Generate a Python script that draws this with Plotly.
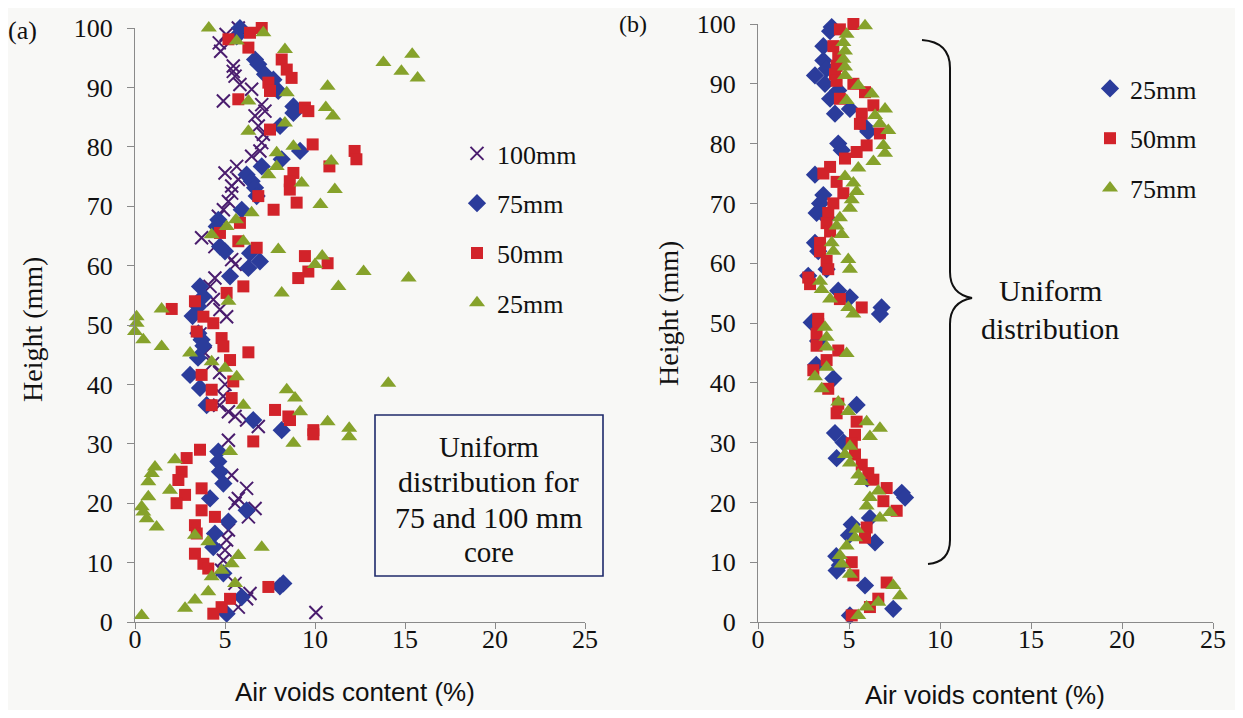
import plotly.graph_objects as go

# ---------------- Panel (a) data ----------------
a100_x = [5.74, 5.06, 4.68, 4.76, 5.46, 5.46, 5.56, 5.83, 6.48, 4.91, 7.04, 7.22, 6.67, 6.85, 7.13, 7.04, 6.94, 6.48,
          5.65, 5.00, 5.74, 5.37, 5.37, 5.19, 4.91, 4.63, 3.70, 4.44, 5.37, 5.56, 4.44, 4.17, 4.35, 4.72, 5.09,
          3.61, 3.89, 4.30, 4.70, 5.00, 4.90, 4.70, 5.19, 5.56, 6.20, 6.85, 5.19, 5.37, 6.20, 5.74, 5.56, 6.67,
          6.30, 5.19, 5.09, 5.00, 4.91, 4.81, 5.56, 6.39, 6.20, 5.74, 10.05]
a100_y = [100.0, 98.9, 97.5, 96.1, 93.6, 92.7, 91.9, 90.5, 89.7, 87.7, 87.1, 86.0, 85.2, 83.5, 82.1, 80.7, 79.3, 78.4,
          76.7, 75.6, 74.5, 73.4, 72.2, 70.8, 69.4, 68.3, 64.7, 63.2, 61.0, 60.2, 57.9, 56.5, 54.3, 52.6, 51.4,
          48.5, 45.3, 43.5, 42.0, 40.0, 38.0, 36.5, 35.4, 34.6, 34.0, 32.9, 30.6, 24.7, 22.5, 20.8, 20.0, 19.1,
          17.7, 15.5, 13.8, 12.1, 10.4, 8.7, 6.5, 4.8, 3.9, 2.5, 1.6]

a75_x = [5.83, 5.65, 6.67, 6.85, 7.22, 7.69, 7.96, 8.80, 8.80, 8.06, 9.17, 8.15, 7.04, 6.20, 6.48, 6.67, 6.76, 5.93,
         4.63, 4.54, 4.72, 5.00, 6.39, 6.94, 6.30, 5.28, 3.61, 3.80, 3.52, 3.20, 3.52, 3.70, 3.80, 3.50, 3.06,
         3.61, 3.98, 6.57, 8.15, 4.63, 4.63, 4.72, 4.91, 4.17, 6.20, 5.19, 4.44, 4.35, 4.91, 8.24, 8.05, 5.93, 5.09]
a75_y = [100.0, 98.6, 94.7, 93.9, 92.2, 91.3, 89.4, 86.8, 85.7, 83.5, 79.3, 77.9, 76.7, 75.3, 74.2, 73.1, 71.7, 69.4,
         67.7, 66.6, 63.2, 62.4, 62.1, 60.7, 59.6, 58.2, 56.5, 54.8, 53.1, 51.5, 48.6, 47.5, 46.5, 44.5, 41.6,
         39.4, 36.5, 34.0, 32.3, 28.7, 27.0, 25.3, 23.3, 20.8, 18.8, 16.9, 14.9, 12.6, 8.2, 6.5, 6.0, 4.2, 1.4]

a50_x = [7.04, 6.39, 5.19, 6.30, 8.15, 8.43, 8.70, 7.41, 7.50, 5.74, 9.44, 9.63, 7.50, 9.87, 12.2, 12.3, 10.8, 8.80,
         8.60, 8.60, 6.85, 8.98, 7.70, 5.83, 4.72, 5.74, 6.76, 9.44, 10.7, 9.63, 9.07, 6.02, 5.09, 3.33, 2.04,
         3.80, 4.35, 3.43, 4.81, 4.91, 6.30, 5.28, 3.70, 5.46, 4.26, 5.37, 4.26, 7.78, 8.52, 8.61, 9.91, 9.91,
         6.57, 3.61, 2.87, 2.59, 2.41, 3.70, 2.78, 2.31, 3.70, 4.44, 3.33, 3.43, 3.33, 3.80, 4.07, 7.41, 5.28,
         4.81, 4.35]
a50_y = [100.0, 99.2, 98.1, 96.7, 94.7, 93.0, 91.6, 90.8, 89.4, 88.0, 86.6, 86.0, 82.9, 80.4, 79.3, 77.9, 76.7, 75.6,
         74.2, 72.8, 71.7, 70.6, 69.4, 67.2, 65.5, 64.1, 63.0, 61.6, 60.4, 59.0, 57.9, 56.5, 55.4, 54.0, 52.7,
         51.4, 50.3, 48.9, 47.8, 46.4, 45.4, 44.1, 41.6, 40.5, 39.1, 37.7, 36.5, 35.7, 34.6, 34.0, 32.3, 31.6,
         30.4, 29.0, 27.6, 25.3, 23.9, 22.5, 21.4, 20.0, 18.8, 17.7, 16.3, 14.9, 11.5, 9.8, 9.0, 5.9, 3.9,
         2.5, 1.4]

a25_x = [4.10, 5.65, 7.13, 8.33, 10.7, 6.30, 8.43, 10.6, 11.0, 6.30, 8.33, 8.80, 7.87, 10.9, 7.87, 7.41, 9.26, 11.1,
         10.3, 13.8, 15.4, 14.8, 15.7, 6.48, 5.61, 5.09, 4.26, 6.02, 7.96, 10.4, 10.0, 12.7, 15.2, 11.3, 8.15,
         5.19, 1.48, 0.09, 0.09, 0.00, 0.46, 1.48, 3.06, 4.26, 5.00, 5.65, 14.07, 8.43, 8.89, 6.02, 9.17, 10.7,
         11.9, 11.9, 8.80, 5.28, 2.22, 1.11, 0.93, 0.74, 1.94, 0.74, 0.37, 0.46, 0.65, 1.20, 3.33, 4.07, 7.04,
         5.74, 5.37, 4.81, 4.26, 5.56, 4.07, 3.33, 2.78, 0.37]
a25_y = [100.0, 97.8, 99.2, 96.4, 90.2, 87.7, 89.1, 86.6, 85.2, 82.6, 84.0, 80.1, 79.0, 77.6, 76.7, 75.3, 73.9, 72.8,
         70.3, 94.2, 95.6, 92.7, 91.6, 68.9, 67.7, 66.6, 65.2, 64.1, 62.7, 61.6, 60.2, 59.0, 57.9, 56.5, 55.4,
         54.0, 52.7, 51.4, 50.3, 48.9, 47.5, 46.4, 45.3, 43.8, 42.7, 41.3, 40.2, 39.1, 37.7, 36.5, 35.4, 33.7,
         32.6, 31.2, 30.1, 28.7, 27.3, 26.1, 25.0, 23.6, 22.2, 21.1, 19.4, 18.5, 17.4, 16.0, 14.6, 13.5, 12.6,
         11.2, 9.8, 8.7, 7.6, 6.5, 5.1, 3.7, 2.3, 1.1]

# ---------------- Panel (b) data ----------------
b25_x = [4.05, 3.96, 3.59, 3.59, 3.77, 3.13, 3.68, 4.41, 3.96, 5.05, 4.23, 5.88, 6.06, 4.41, 4.60, 3.13, 3.59, 3.41,
         3.22, 3.77, 3.13, 3.31, 3.77, 2.76, 4.41, 5.05, 6.79, 6.70, 2.95, 3.30, 3.20, 4.14, 5.42, 4.70, 4.23,
         4.32, 6.00, 7.90, 8.08, 6.15, 5.15, 5.00, 6.43, 4.30, 4.50, 4.32, 5.88, 7.43, 5.05]
b25_y = [99.5, 98.8, 96.3, 93.9, 92.5, 91.4, 90.0, 88.9, 87.5, 85.8, 85.0, 82.8, 82.0, 80.0, 78.9, 74.8, 71.4, 70.0,
         68.4, 67.6, 63.4, 62.0, 59.0, 57.9, 55.4, 54.3, 52.6, 51.5, 50.1, 47.0, 43.0, 40.7, 36.3, 30.0, 31.6,
         27.4, 24.0, 21.6, 20.8, 17.4, 16.3, 14.5, 13.3, 11.0, 9.5, 8.6, 6.1, 2.2, 1.1]

b50_x = [5.24, 4.50, 4.14, 4.41, 4.32, 4.23, 4.32, 5.24, 5.88, 4.50, 6.34, 5.70, 5.60, 6.70, 5.97, 5.42, 4.78, 3.96,
         3.59, 4.32, 4.69, 4.14, 3.86, 3.77, 3.96, 3.41, 3.41, 3.77, 3.86, 2.76, 2.86, 4.50, 5.70, 3.31, 3.31,
         3.22, 3.22, 4.41, 3.77, 3.04, 3.86, 4.41, 4.32, 5.42, 5.33, 5.15, 5.33, 5.70, 6.06, 6.34, 7.07, 6.89,
         7.62, 5.97, 5.88, 5.15, 5.24, 7.07, 6.61, 6.15, 5.15]
b50_y = [100.0, 99.1, 96.3, 94.4, 93.0, 91.6, 90.5, 90.0, 88.6, 87.5, 86.4, 85.0, 83.3, 81.7, 79.7, 78.6, 77.5, 76.1,
         75.0, 73.6, 71.7, 70.0, 68.4, 66.7, 65.3, 63.4, 62.0, 60.4, 59.0, 57.6, 56.5, 54.0, 52.6, 50.7, 49.8,
         48.2, 46.2, 45.4, 43.8, 42.1, 39.0, 36.5, 34.9, 33.5, 31.3, 29.9, 28.0, 26.3, 24.9, 23.8, 22.4, 20.2,
         18.6, 15.8, 14.1, 10.0, 7.8, 6.6, 3.9, 2.5, 1.1]

b75_x = [5.88, 4.87, 4.69, 4.78, 4.69, 4.78, 4.78, 5.51, 6.25, 4.87, 6.98, 6.43, 6.70, 7.16, 6.89, 6.98, 6.34, 5.51,
         4.78, 5.24, 5.42, 5.15, 5.05, 4.50, 4.32, 4.60, 4.05, 4.14, 4.96, 5.05, 3.41, 3.50, 3.96, 4.96, 5.24,
         3.68, 3.77, 3.77, 4.87, 3.77, 3.13, 3.50, 4.41, 4.96, 5.97, 6.70, 6.15, 5.05, 4.78, 5.05, 5.51, 5.70,
         6.61, 6.15, 5.97, 7.25, 6.70, 5.42, 5.33, 4.87, 4.50, 4.60, 5.05, 7.43, 7.80, 6.61, 5.97, 5.51]
b75_y = [99.7, 98.3, 96.9, 95.5, 94.1, 92.8, 91.4, 89.7, 88.3, 87.2, 85.8, 84.7, 83.3, 82.2, 79.7, 78.4, 77.0, 75.9,
         74.5, 73.4, 72.0, 70.6, 69.2, 67.6, 66.2, 64.8, 63.4, 62.0, 60.6, 59.0, 57.0, 55.6, 54.0, 52.6, 51.5,
         49.3, 47.6, 46.0, 44.9, 42.6, 41.0, 39.0, 36.8, 35.2, 33.5, 32.4, 31.0, 29.4, 28.0, 26.6, 24.6, 23.5,
         21.9, 20.8, 19.4, 18.3, 17.4, 15.5, 14.1, 12.7, 11.1, 9.7, 8.0, 6.1, 4.4, 3.3, 2.5, 1.1]

x_ticks = [0, 5, 10, 15, 20, 25]
y_ticks = [0, 10, 20, 30, 40, 50, 60, 70, 80, 90, 100]

# ---------------- styles ----------------
OFF = 8                      # default page margin of the html body
W, H = 1243 - 2 * OFF, 718 - 2 * OFF
PURPLE = "#4a1d6e"
BLUE = "#2b3c9b"
RED = "#d2232a"
GREEN = "#86a22b"
SERIF = "Liberation Serif"
SANS = "Liberation Sans"
BG = "#f8f8f6"


def PX(x):
    return (x - OFF) / W


def PY(y):
    return 1 - (y - OFF) / H


fig = go.Figure()

sty = {
    "x": dict(symbol="x-thin-open", size=13, color=PURPLE, line=dict(color=PURPLE, width=2)),
    "d": dict(symbol="diamond", size=14, color=BLUE, line=dict(width=0)),
    "s": dict(symbol="square", size=12, color=RED, line=dict(width=0)),
    "t": dict(symbol="triangle-up", size=14, color=GREEN, line=dict(width=0)),
}

panel_a = [("100mm", a100_x, a100_y, "x", 1), ("75mm", a75_x, a75_y, "d", 2),
           ("50mm", a50_x, a50_y, "s", 3), ("25mm", a25_x, a25_y, "t", 4)]
for name, xs, ys, s, rk in panel_a:
    fig.add_trace(go.Scatter(x=xs, y=ys, mode="markers", name=name, marker=sty[s],
                             xaxis="x", yaxis="y", legend="legend", legendrank=rk,
                             legendgroup="a" + name, cliponaxis=False))

panel_b = [("25mm", b25_x, b25_y, "d", 1), ("50mm", b50_x, b50_y, "s", 2), ("75mm", b75_x, b75_y, "t", 3)]
for name, xs, ys, s, rk in panel_b:
    fig.add_trace(go.Scatter(x=xs, y=ys, mode="markers", name=name, marker=sty[s],
                             xaxis="x2", yaxis="y2", legend="legend2", legendrank=rk,
                             legendgroup="b" + name, cliponaxis=False))

axis_common = dict(showgrid=False, zeroline=False, showline=True, linecolor="#8a8a8a", linewidth=1,
                   ticks="outside", tickcolor="#8a8a8a", tickwidth=1, ticklabeloverflow="allow",
                   tickfont=dict(family=SERIF, size=26, color="#111"), automargin=False)
xax = dict(ticklen=6, ticklabelstandoff=-12, **axis_common)
yax = dict(ticklen=7, ticklabelstandoff=9, **axis_common)

fig.update_layout(
    width=W, height=H,
    margin=dict(l=0, r=0, t=0, b=0),
    paper_bgcolor=BG, plot_bgcolor=BG,
    xaxis=dict(domain=[PX(135), PX(585)], range=[0, 25], tickvals=x_ticks, anchor="y", **xax),
    yaxis=dict(domain=[PY(622), PY(28)], range=[0, 100], tickvals=y_ticks, anchor="x", **yax),
    xaxis2=dict(domain=[PX(758), PX(1213)], range=[0, 25], tickvals=x_ticks, anchor="y2", **xax),
    yaxis2=dict(domain=[PY(622), PY(24)], range=[0, 100], tickvals=y_ticks, anchor="x2", **yax),
    legend=dict(x=PX(457), y=PY(130), xanchor="left", yanchor="top", bgcolor="rgba(0,0,0,0)",
                font=dict(family=SERIF, size=26, color="#111"), tracegroupgap=13, itemwidth=30),
    legend2=dict(x=PX(1090), y=PY(65), xanchor="left", yanchor="top", bgcolor="rgba(0,0,0,0)",
                 font=dict(family=SERIF, size=26, color="#111"), tracegroupgap=13, itemwidth=30),
    showlegend=True,
)

ann = []


def text(x, y, t, size=26, family=SERIF, angle=0, xanchor="center"):
    ann.append(dict(x=PX(x), y=PY(y), xref="paper", yref="paper", text=t, showarrow=False,
                    font=dict(family=family, size=size, color="#111"), textangle=angle,
                    xanchor=xanchor, yanchor="middle"))


text(22, 30, "(a)")
text(633, 24, "(b)", size=24)
text(32, 330, "Height (mm)", size=28, angle=-90)
text(668, 314, "Height (mm)", size=28, angle=-90)
text(355, 692, "Air voids content (%)", size=26, family=SANS)
text(985, 695, "Air voids content (%)", size=26, family=SANS)
text(489, 447, "Uniform", size=29)
text(489, 481, "distribution for", size=30)
text(489, 517, "75 and 100 mm", size=30)
text(489, 552, "core", size=29)
text(1050, 290, "Uniform", size=30)
text(1050, 328, "distribution", size=30)
fig.update_layout(annotations=ann)

# box in panel (a)
fig.add_shape(type="rect", xref="paper", yref="paper", x0=PX(375), x1=PX(603), y0=PY(576), y1=PY(415),
              line=dict(color="#1f2a6b", width=1.6), fillcolor="rgba(0,0,0,0)")

# curly brace in panel (b)
pts = [("M", (922, 40)), ("Q", (950, 42), (950, 68)), ("L", (950, 272)), ("Q", (950, 294), (972, 298)),
       ("Q", (950, 302), (950, 324)), ("L", (950, 540)), ("Q", (950, 562), (928, 564))]
path = ""
for seg in pts:
    cmd = seg[0]
    coords = " ".join(f"{PX(p[0]):.5f},{PY(p[1]):.5f}" for p in seg[1:])
    path += f"{cmd} {coords} "
fig.add_shape(type="path", xref="paper", yref="paper", path=path.strip(),
              line=dict(color="#111", width=2))

fig.write_html("out.html")
